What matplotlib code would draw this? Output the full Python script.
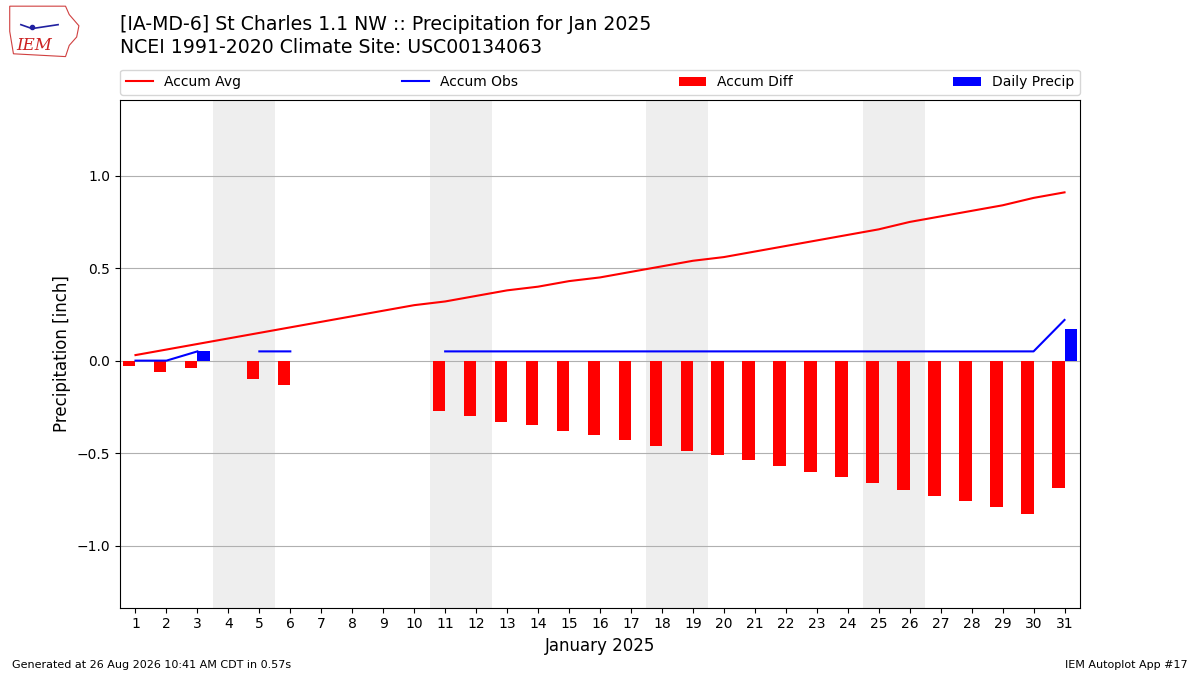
import numpy as np
import matplotlib.pyplot as plt
from matplotlib.patches import Polygon

# ---------------------------------------------------------------------------
# Data (inches), January 2025
# ---------------------------------------------------------------------------
days = list(range(1, 32))
accum_avg = [0.03, 0.06, 0.09, 0.12, 0.15, 0.18, 0.21, 0.24, 0.27, 0.30,
             0.32, 0.35, 0.38, 0.40, 0.43, 0.45, 0.48, 0.51, 0.54, 0.56,
             0.59, 0.62, 0.65, 0.68, 0.71, 0.75, 0.78, 0.81, 0.84, 0.88,
             0.91]
# None = missing observation
accum_obs = [0.0, 0.0, 0.05, None, 0.05, 0.05, None, None, None, None,
             0.05, 0.05, 0.05, 0.05, 0.05, 0.05, 0.05, 0.05, 0.05, 0.05,
             0.05, 0.05, 0.05, 0.05, 0.05, 0.05, 0.05, 0.05, 0.05, 0.05,
             0.22]
accum_diff = [-0.03, -0.06, -0.04, None, -0.10, -0.13, None, None, None, None,
              -0.27, -0.30, -0.33, -0.35, -0.38, -0.40, -0.43, -0.46, -0.49,
              -0.51, -0.54, -0.57, -0.60, -0.63, -0.66, -0.70, -0.73, -0.76,
              -0.79, -0.83, -0.69]
daily_precip = [0, 0, 0.05, 0, 0, 0, 0, 0, 0, 0, 0, 0, 0, 0, 0, 0, 0, 0, 0,
                0, 0, 0, 0, 0, 0, 0, 0, 0, 0, 0, 0.17]
weekends = [(4, 5), (11, 12), (18, 19), (25, 26)]

TITLE = ("[IA-MD-6] St Charles 1.1 NW :: Precipitation for Jan 2025\n"
         "NCEI 1991-2020 Climate Site: USC00134063")
FOOTER_L = "Generated at 26 Aug 2026 10:41 AM CDT in 0.57s"
FOOTER_R = "IEM Autoplot App #17"


def to_arr(vals):
    return np.array([np.nan if v is None else v for v in vals], dtype=float)


fig = plt.figure(figsize=(12, 6.75), dpi=100)
ax = fig.add_axes([0.1, 0.1, 0.8, 0.752])

for a, b in weekends:
    ax.axvspan(a - 0.5, b + 0.5, color="#eeeeee", zorder=0, lw=0)

x = np.array(days, dtype=float)
diff = to_arr(accum_diff)
ok = ~np.isnan(diff)
ax.bar(x[ok], diff[ok], width=-0.4, align="edge", color="r", zorder=2,
       label="Accum Diff")
ax.bar(x, daily_precip, width=0.4, align="edge", color="b", zorder=2,
       label="Daily Precip")
ax.plot(x, accum_avg, color="r", lw=1.5, zorder=3, label="Accum Avg")
ax.plot(x, to_arr(accum_obs), color="b", lw=1.5, zorder=3, label="Accum Obs")

ax.set_xlim(0.5, 31.5)
ax.set_ylim(-1.335, 1.41)
ax.set_xticks(days)
ax.set_yticks([-1.0, -0.5, 0.0, 0.5, 1.0])
ax.tick_params(labelsize=10)
ax.grid(axis="y", color="#b0b0b0", lw=0.8)
ax.set_axisbelow(True)
ax.set_ylabel("Precipitation [inch]", fontsize=12)
ax.set_xlabel("January 2025", fontsize=12)

handles, labels = ax.get_legend_handles_labels()
order = ["Accum Avg", "Accum Obs", "Accum Diff", "Daily Precip"]
hmap = dict(zip(labels, handles))
ax.legend([hmap[k] for k in order], order, loc="lower left",
          bbox_to_anchor=(0, 1.01, 1, 0.05), mode="expand", ncol=4,
          borderaxespad=0, fontsize=10)

fig.text(0.1, 0.947, TITLE, fontsize=13.6, ha="left", va="center",
         linespacing=1.25)
fig.text(0.01, 0.015, FOOTER_L, fontsize=8, ha="left", va="center")
fig.text(0.99, 0.015, FOOTER_R, fontsize=8, ha="right", va="center")

# rough IEM logo
lax = fig.add_axes([0.005, 0.912, 0.062, 0.083])
lax.set_xlim(0, 1)
lax.set_ylim(0, 1)
lax.axis("off")
outline = [(0.05, 0.95), (0.8, 0.95), (0.85, 0.8), (0.98, 0.6),
           (0.95, 0.4), (0.85, 0.25), (0.8, 0.05), (0.1, 0.1), (0.05, 0.5)]
lax.add_patch(Polygon(outline, closed=True, fill=False, ec="#d04040", lw=0.8))
lax.text(0.38, 0.25, "IEM", color="#cc2222", fontsize=12, family="serif",
         style="italic", ha="center", va="center")
lax.plot([0.2, 0.35, 0.7], [0.62, 0.55, 0.62], color="#2020a0", lw=1.2)
lax.plot([0.35], [0.57], "o", color="#2020a0", ms=3)

fig.savefig("out.png", dpi=100)
